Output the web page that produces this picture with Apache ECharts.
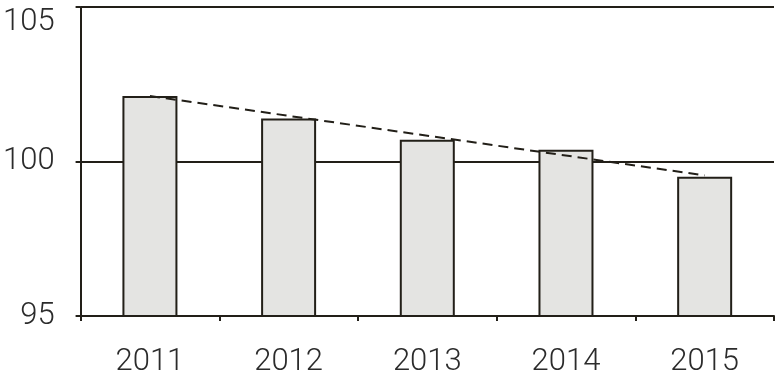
<!DOCTYPE html>
<html>
<head>
<meta charset="utf-8">
<script src="https://cdn.jsdelivr.net/npm/echarts@6/dist/echarts.min.js"></script>
<style>html,body{margin:0;padding:0;background:#fff}#c{width:777px;height:378px}</style>
</head>
<body>
<div id="c"></div>
<script>
const categories = ['2011', '2012', '2013', '2014', '2015'];
const values = [102.12, 101.39, 100.70, 100.38, 99.51];
const trendStart = ['2011', 102.12];
const trendEnd = ['2015', 99.55];
const yTicks = [95, 100, 105];

const dark = '#221f18';
const txt = '#2b2b2b';
const font = 'Roboto';
const chart = echarts.init(document.getElementById('c'), null, {renderer: 'canvas'});
chart.setOption({
  animation: false,
  backgroundColor: '#ffffff',
  grid: {left: 77, right: 3, top: 7, bottom: 58, containLabel: false},
  xAxis: {
    type: 'category',
    data: categories,
    boundaryGap: true,
    axisLine: {lineStyle: {color: dark, width: 2}},
    axisTick: {show: true, length: 5, inside: false, lineStyle: {color: dark, width: 2}},
    axisLabel: {color: txt, fontSize: 31, fontWeight: 300, fontFamily: font, margin: 31}
  },
  yAxis: {
    type: 'value',
    min: yTicks[0], max: yTicks[yTicks.length - 1], interval: 5,
    axisLine: {show: true, lineStyle: {color: dark, width: 2}},
    axisTick: {show: true, length: 5, lineStyle: {color: dark, width: 2}},
    splitLine: {show: true, lineStyle: {color: dark, width: 2}},
    axisLabel: {color: txt, fontSize: 31, fontWeight: 300, fontFamily: font, margin: 26,
      verticalAlignMaxLabel: 'top'}
  },
  series: [
    {
      type: 'bar',
      data: values,
      barWidth: 55,
      itemStyle: {color: '#e4e4e2', borderColor: dark, borderWidth: 2},
      z: 2
    },
    {
      type: 'line',
      data: [trendStart, trendEnd],
      symbol: 'none',
      lineStyle: {color: dark, width: 2, type: [10, 6]},
      z: 3
    }
  ]
});
</script>
</body>
</html>
